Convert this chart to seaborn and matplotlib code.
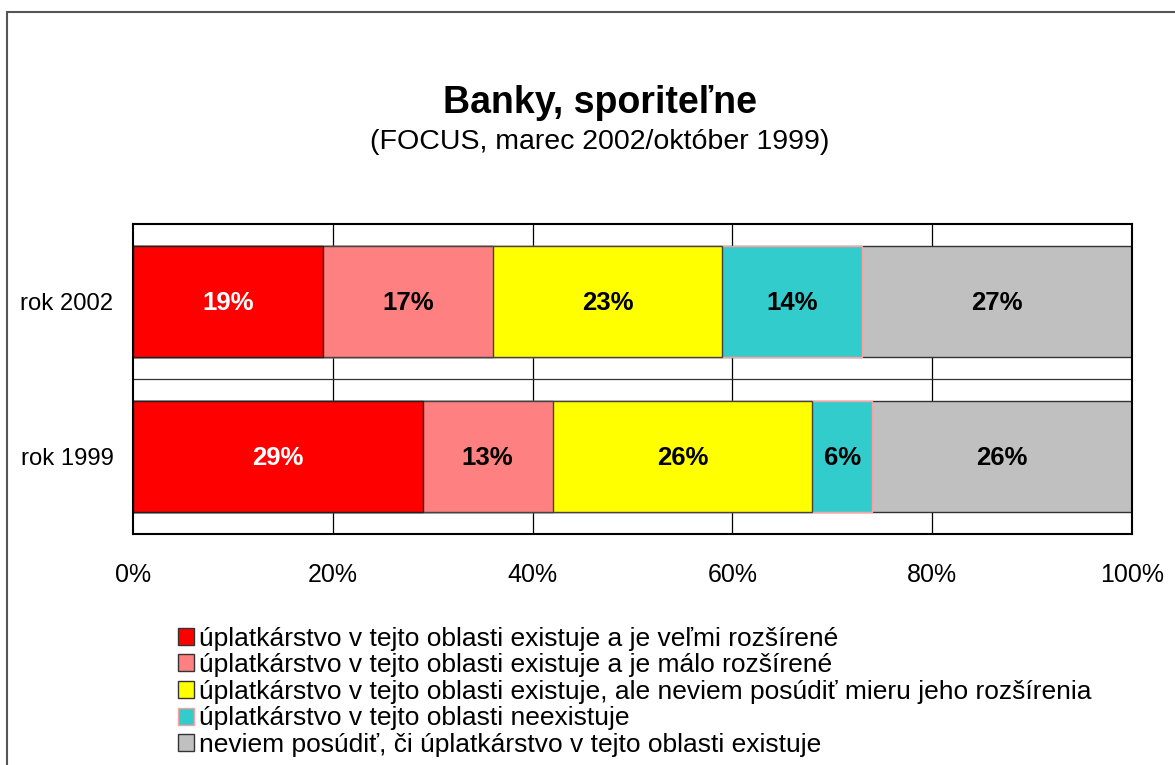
import numpy as np
import pandas as pd
import seaborn as sns
import matplotlib.pyplot as plt
from matplotlib.patches import Rectangle, Patch

sns.set_theme(style="white")
plt.rcParams['font.family'] = ['Liberation Sans', 'DejaVu Sans']
plt.rcParams['text.color'] = 'black'
plt.rcParams['xtick.color'] = 'black'
plt.rcParams['ytick.color'] = 'black'

# data
years = ["rok 2002", "rok 1999"]
answers = [
    "úplatkárstvo v tejto oblasti existuje a je veľmi rozšírené",
    "úplatkárstvo v tejto oblasti existuje a je málo rozšírené",
    "úplatkárstvo v tejto oblasti existuje, ale neviem posúdiť mieru jeho rozšírenia",
    "úplatkárstvo v tejto oblasti neexistuje",
    "neviem posúdiť, či úplatkárstvo v tejto oblasti existuje",
]
vals_2002 = [19, 17, 23, 14, 27]
vals_1999 = [29, 13, 26, 6, 26]
colors = ["#FF0000", "#FF8080", "#FFFF00", "#33CCCC", "#C0C0C0"]
edges = ["#222222", "#444444", "#444444", "#FFA0A0", "#333333"]
text_colors = ["white", "black", "black", "black", "black"]

df = pd.DataFrame({"rok": np.repeat(years, len(answers)),
                   "odpoved": answers * 2,
                   "pct": vals_2002 + vals_1999})
df["cum"] = df.groupby("rok", sort=False)["pct"].cumsum()

fig = plt.figure(figsize=(11.75, 7.65), dpi=100)
ax = fig.add_axes([133 / 1175, 1 - 534 / 765, 999 / 1175, 310 / 765])

# gridlines behind bars
for xv in [20, 40, 60, 80]:
    ax.axvline(xv, color="black", lw=0.9, zorder=0)
ax.axhline(0.5, color="#333333", lw=0.9, zorder=0)

# stacked bars: draw cumulative totals from last to first
for i in range(len(answers) - 1, -1, -1):
    sub = df[df["odpoved"] == answers[i]]
    sns.barplot(data=sub, x="cum", y="rok", order=years, orient="h",
                color=colors[i], edgecolor=edges[i], linewidth=1.0,
                width=0.716, saturation=1, ax=ax, zorder=2)

# labels
for _, r in df.iterrows():
    i = answers.index(r["odpoved"])
    yi = years.index(r["rok"])
    ax.text(r["cum"] - r["pct"] / 2, yi + 0.01, f"{r['pct']}%", ha="center", va="center",
            fontsize=18.5, fontweight="bold", color=text_colors[i], zorder=5)

ax.set_xlim(0, 100)
ax.set_ylim(1.5, -0.5)
ax.set_xticks([0, 20, 40, 60, 80, 100])
ax.set_xticklabels([f"{v}%" for v in [0, 20, 40, 60, 80, 100]], fontsize=18)
ax.set_yticklabels(years, fontsize=17.2)
ax.tick_params(axis="x", length=0, pad=21)
ax.tick_params(axis="y", length=0, pad=14)
ax.set_xlabel("")
ax.set_ylabel("")
for s in ax.spines.values():
    s.set_visible(True)
    s.set_color("black")
    s.set_linewidth(1.5)
ax.grid(False)

# titles
fig.text(600 / 1175, 1 - 103 / 765, "Banky, sporiteľne", ha="center", va="center",
         fontsize=27, fontweight="bold")
fig.text(600 / 1175, 1 - 142 / 765, "(FOCUS, marec 2002/október 1999)", ha="center",
         va="center", fontsize=20.5)

# legend
handles = [Patch(facecolor=colors[i], edgecolor=edges[i] if i == 3 else "#333333", lw=1.0)
           for i in range(len(answers))]
fig.legend(handles, answers, loc="upper left", bbox_to_anchor=(167 / 1175, 1 - 616 / 765),
           frameon=False, fontsize=19, handlelength=0.62, handleheight=0.62,
           handletextpad=0.2, labelspacing=0.1, borderaxespad=0)

# outer frame
fig.patches.append(Rectangle((7 / 1175, -0.05), 1.1, 1 - 12 / 765 + 0.05,
                             transform=fig.transFigure, fill=False,
                             edgecolor="#555555", lw=1.5))

fig.savefig("out.png", dpi=100, facecolor="white")
